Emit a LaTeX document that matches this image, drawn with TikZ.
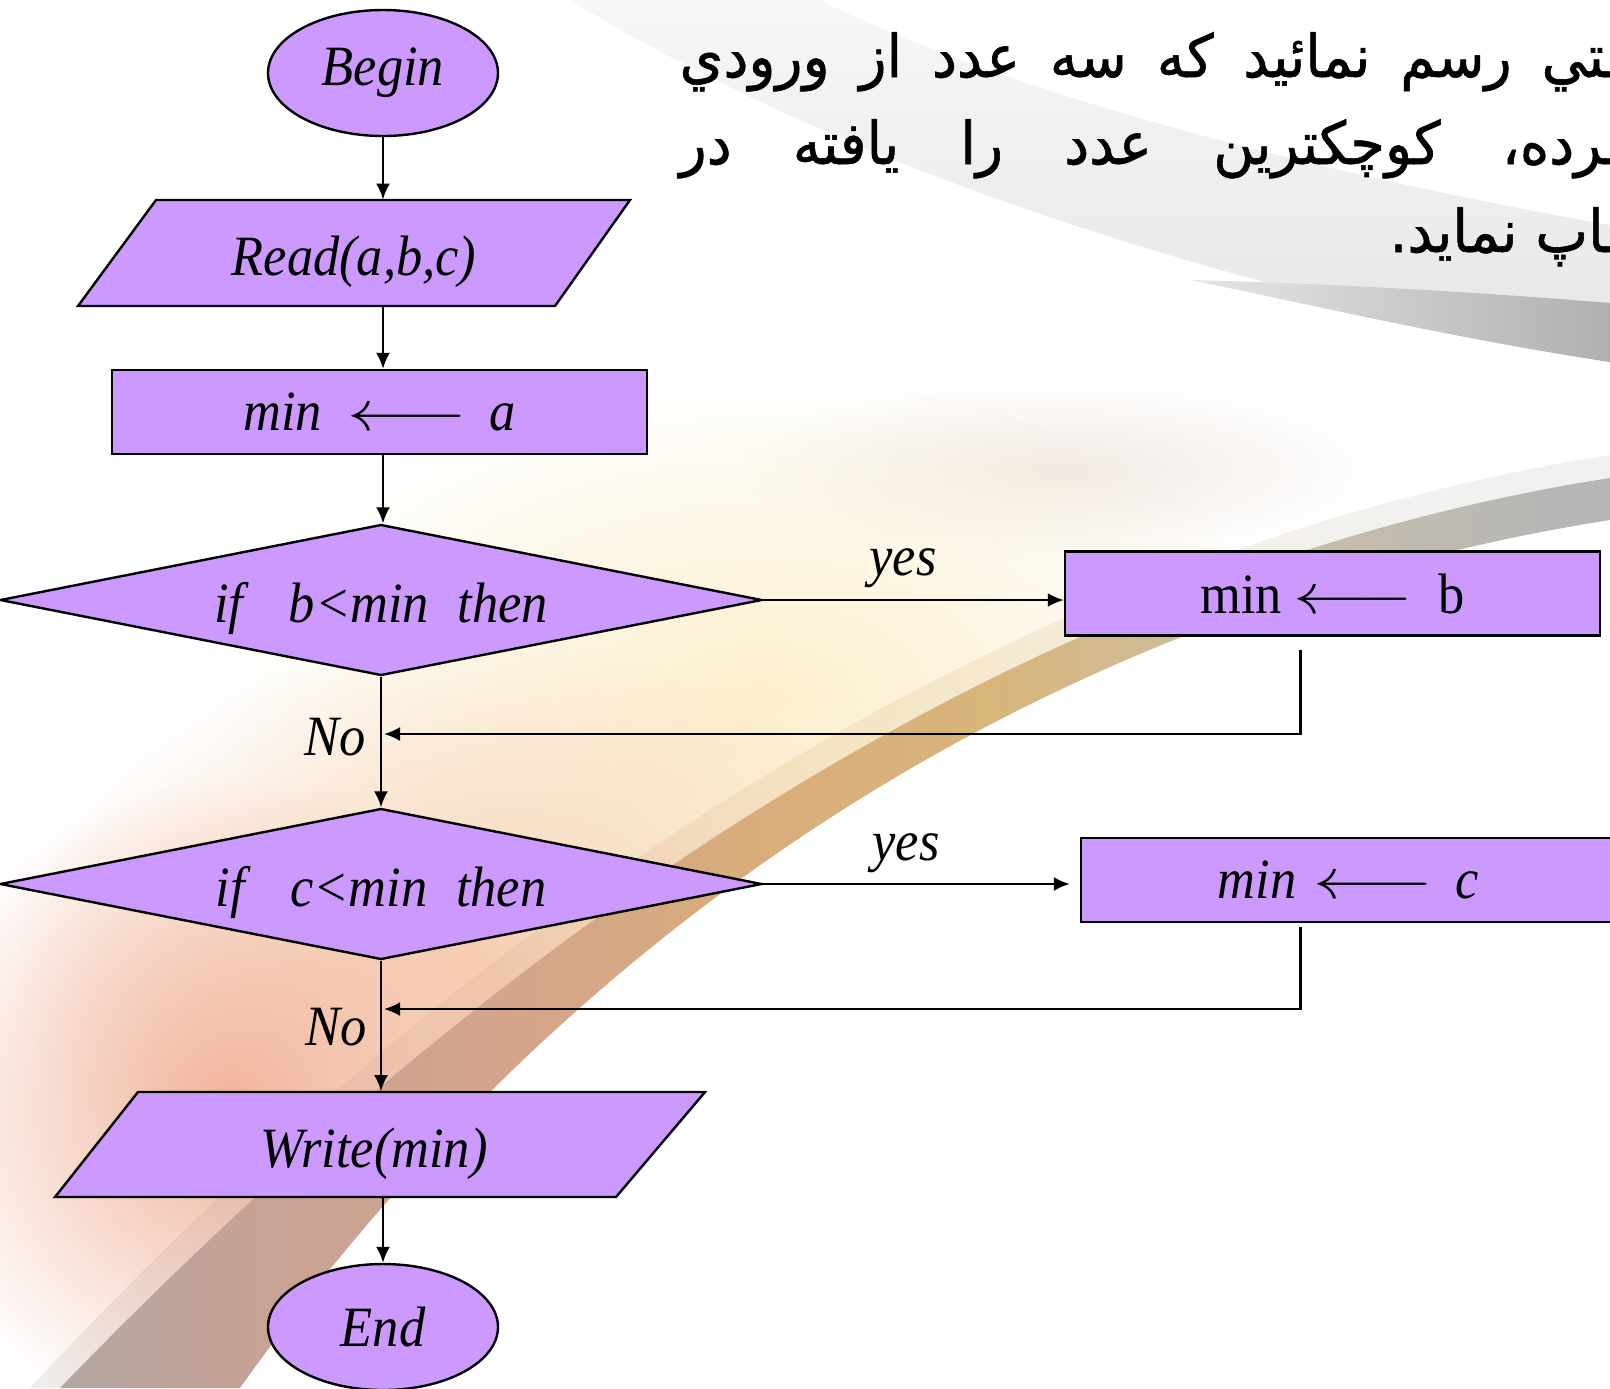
\RequirePackage{fix-cm}
\documentclass[tikz,border=0pt]{standalone}
\usepackage{fontspec}
\setmainfont[FakeStretch=0.92]{Liberation Serif}
\newfontfamily\arabicfont[Script=Arabic,FakeStretch=0.95,FakeBold=1]{DejaVu Sans}
\TeXXeTstate=1
\usetikzlibrary{shapes.geometric,arrows.meta,fadings}

\definecolor{lav}{HTML}{CC99FF}
\definecolor{glowA}{HTML}{FCEFCC}
\definecolor{glowB}{HTML}{F7D0B2}
\definecolor{glowC}{HTML}{F1B49C}
\definecolor{cloud}{HTML}{F2EAE4}
\definecolor{swoosh}{HTML}{E6E6E6}
\definecolor{ribbon}{HTML}{B0B0B0}
\definecolor{arcA}{HTML}{B2A8A2}
\definecolor{arcB}{HTML}{C6A296}
\definecolor{arcC}{HTML}{D4A48C}
\definecolor{arcD}{HTML}{D9AC7C}
\definecolor{arcE}{HTML}{D8B67C}
\definecolor{arcF}{HTML}{CDBDA0}
\definecolor{arcG}{HTML}{BDBAB4}
\definecolor{arcH}{HTML}{B5B5B5}

\tikzfading[name=glow, inner color=transparent!0, outer color=transparent!100]
\tikzfading[name=fadeup, bottom color=transparent!0, top color=transparent!70]

\pgfdeclarehorizontalshading{arcshade}{100bp}{%
  color(0bp)=(arcA); color(25bp)=(arcA); color(31bp)=(arcB);
  color(39bp)=(arcC); color(47bp)=(arcD); color(55bp)=(arcE);
  color(63bp)=(arcF); color(70bp)=(arcG); color(75bp)=(arcH);
  color(100bp)=(arcH)}

% long assignment arrow used inside the boxes
\newcommand\assignarrow[2]{\hspace{#1}\scalebox{1.3}[1]{$\longleftarrow$}\hspace{#2}}

\tikzset{
  shapeline/.style={draw=black, line width=1.2pt, fill=lav, inner sep=0pt},
  term/.style={shapeline, ellipse, minimum width=115pt, minimum height=63pt, font=\itshape},
  iotext/.style={inner sep=0pt, minimum height=53pt, text height=22.5pt, text depth=0pt, font=\itshape},
  decision/.style={shapeline, diamond, shape aspect=5, minimum width=381pt, minimum height=75.5pt,
    text height=22pt, text depth=0pt, font=\itshape},
  assign/.style={shapeline, rectangle, minimum width=267.5pt, minimum height=42pt},
  flow/.style={-{Latex[length=8pt,width=7pt]}, line width=1.2pt},
  lbl/.style={inner sep=0pt, font=\itshape},
  persian/.style={inner sep=0pt, font=\arabicfont\fontsize{29.5pt}{34pt}\selectfont}
}

\begin{document}
\fontsize{28.5pt}{34pt}\selectfont
\begin{tikzpicture}[x=0.5pt, y=-0.5pt]
\useasboundingbox (0,0) rectangle (1610,1388);
\begin{scope}
\clip (0,0) rectangle (1610,1388);
\fill[white] (0,0) rectangle (1610,1388);

% ---- background: grey swoosh at the top
\fill[swoosh, path fading=fadeup] (570,0) -- (820,0) .. controls (1000,90) and (1300,170) .. (1610,225)
  -- (1610,362) .. controls (1300,300) and (900,200) .. (570,0) -- cycle;
\shade[left color=swoosh, right color=ribbon]
  (1190,280) .. controls (1350,284) and (1500,294) .. (1610,303)
  -- (1610,362) .. controls (1450,338) and (1300,302) .. (1190,280) -- cycle;

% ---- background: warm glow left of the arc
\begin{scope}
\clip (0,300) -- (1610,300) -- (1610,520) .. controls (1100,600) and (600,880) .. (240,1388)
  -- (0,1388) -- cycle;
\fill[cloud, path fading=glow] (1060,470) ellipse (320 and 90);
\fill[glowA, path fading=glow] (760,700) ellipse (540 and 320);
\fill[glowB, path fading=glow] (480,960) ellipse (460 and 320);
\fill[glowC, path fading=glow] (230,1110) ellipse (330 and 330);
\end{scope}

% ---- background: the arc, soft outer rim first
\shade[shading=arcshade, opacity=0.2]
  (1610,455) .. controls (1070,540) and (530,850) .. (30,1388)
  -- (60,1388) .. controls (560,870) and (1080,560) .. (1610,478) -- cycle;
\shade[shading=arcshade]
  (1610,478) .. controls (1080,560) and (560,870) .. (60,1388)
  -- (240,1388) .. controls (600,880) and (1100,600) .. (1610,520) -- cycle;

% ---- task statement
\node[persian, anchor=base east] (line1) at (1622,77)
  {\makebox[471pt][s]{\beginR ـتي رسم نمائيد که سه عدد از ورودي\endR}};
\node[persian, anchor=base east] (line2) at (1622,164)
  {\makebox[471pt][s]{\beginR ـرده، کوچکترين عدد را يافته در\endR}};
\node[persian, anchor=base east] (line3) at (1622,252)
  {\beginR ـاپ نمايد.\endR};

% ---- flowchart: input/output parallelograms
\filldraw[shapeline] (156,200) -- (630,200) -- (555,306) -- (78,306) -- cycle;
\filldraw[shapeline] (138,1092) -- (705,1092) -- (616,1197) -- (55,1197) -- cycle;

\node[term] (begin) at (383,73) {Begin};
\node[iotext] (read) at (354,253) {Read(a,b,c)};
\node[assign, font=\itshape] (seta) at (379.5,412) {min\assignarrow{0.45em}{0.4em}a};
\node[decision] (ifb) at (381,600) {if\hspace{0.8em}b<min\hspace{0.5em}then};
\node[assign] (setb) at (1332.5,593.5) {min\assignarrow{0.2em}{0.45em}b};
\node[decision] (ifc) at (381,884) {if\hspace{0.8em}c<min\hspace{0.5em}then};
\node[assign, font=\itshape] (setc) at (1348.5,880) {min\assignarrow{0.3em}{0.4em}c};
\node[iotext] (write) at (374,1144.5) {Write(min)};
\node[term] (end) at (383,1327) {End};

\node[lbl] (yes1) at (903,568) {yes};
\node[lbl] (yes2) at (906,853) {yes};
\node[lbl] (no1) at (335,737) {No};
\node[lbl] (no2) at (336,1027) {No};

\coordinate (bret) at ([shift={(-32,13)}]setb.south);
\coordinate (bjoin) at (384,734);
\coordinate (cret) at ([shift={(-48,4)}]setc.south);
\coordinate (cjoin) at (384,1009);

\draw[flow] (begin.south) -- (begin.south |- read.north);
\draw[flow] (begin.south |- read.south) -- (begin.south |- seta.north);
\draw[flow] (begin.south |- seta.south) -- (begin.south |- ifb.north);
\draw[flow] (ifb.south) -- (ifc.north);
\draw[flow] (ifc.south) -- (ifc.south |- write.north);
\draw[flow] (end.north |- write.south) -- (end.north);
\draw[flow] (ifb.east) -- (ifb.east -| setb.west);
\draw[flow] (ifc.east) -- ([xshift=-5pt]ifc.east -| setc.west);
\draw[flow] (bret) |- (bjoin);
\draw[flow] (cret) |- (cjoin);
\end{scope}
\end{tikzpicture}
\end{document}
